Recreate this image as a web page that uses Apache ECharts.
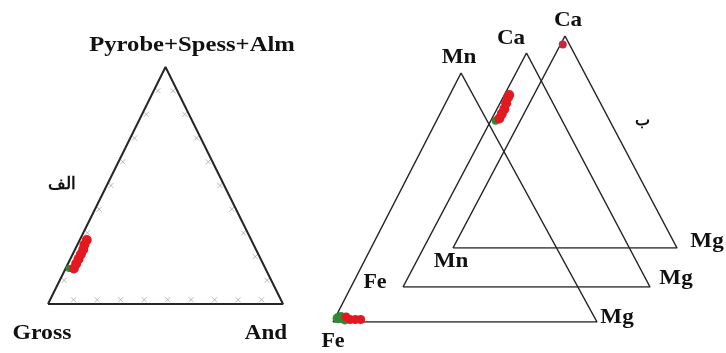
<!DOCTYPE html>
<html><head><meta charset="utf-8">
<script src="https://cdn.jsdelivr.net/npm/echarts@6/dist/echarts.min.js"></script>
<style>html,body{margin:0;padding:0;background:#fff}#c{width:726px;height:353px}</style>
</head><body><div id="c"></div>
<script>
// Vertex labels for each ternary diagram, ordered [left, right, top]
const garnetVertices = ['Gross', 'And', 'Pyrobe+Spess+Alm'];
const mnFeMgVertices = ['Fe', 'Mg', 'Mn'];
const caFeMgVertices = ['Fe', 'Mg', 'Ca'];
const caMnMgVertices = ['Mn', 'Mg', 'Ca'];
const panelLabels = ['الف', 'ب'];
const tickFractions = [0.1, 0.2, 0.3, 0.4, 0.5, 0.6, 0.7, 0.8, 0.9];

// Compositions as fractions [left, right, top]
const garnetRed = [[0.815,0.035,0.15],[0.795,0.035,0.17],[0.775,0.035,0.19],[0.755,0.035,0.21],[0.735,0.035,0.23],[0.72,0.03,0.25],[0.70,0.03,0.27]];
const garnetGreen = [[0.835,0.015,0.15]];
const mnFeMgGreen = [[0.975,0.01,0.015],[0.96,0.02,0.02],[0.95,0.04,0.01]];
const mnFeMgRed = [[0.93,0.06,0.01],[0.91,0.08,0.01],[0.89,0.10,0.01],[0.94,0.04,0.02]];
const caFeMgGreen = [[0.27,0.02,0.71]];
const caFeMgRed = [[0.25,0.03,0.72],[0.23,0.03,0.74],[0.21,0.03,0.76],[0.19,0.025,0.785],[0.17,0.02,0.81],[0.16,0.02,0.82]];
const caMnMgRed = [[0.03,0.01,0.96]];

const chart = echarts.init(document.getElementById('c'));

// Layout of each triangle (pixels) and apex horizontal position
const layouts = [
  {left: 48, top: 67, width: 235, height: 237, apexX: 0.5},
  {left: 333, top: 73, width: 264, height: 249, apexX: 0.485},
  {left: 403, top: 53, width: 247, height: 234, apexX: 0.5},
  {left: 453, top: 36, width: 224, height: 212, apexX: 0.5}
];

function toXY(c, apexX) { return [c[1] + c[2] * apexX, c[2]]; }
const cornerComps = [[1,0,0],[0,1,0],[0,0,1],[1,0,0]];

const grids = [], xAxes = [], yAxes = [], series = [];
const RED = '#e3191f', GREEN = '#2f8a35', LINE = '#262626';

layouts.forEach((L, i) => {
  grids.push({left: L.left, top: L.top, width: L.width, height: L.height, containLabel: false});
  xAxes.push({gridIndex: i, type: 'value', min: 0, max: 1, show: false});
  yAxes.push({gridIndex: i, type: 'value', min: 0, max: 1, show: false});
  series.push({
    type: 'line', xAxisIndex: i, yAxisIndex: i, showSymbol: false, silent: true,
    data: cornerComps.map(c => toXY(c, L.apexX)),
    lineStyle: {color: LINE, width: i === 0 ? 2 : 1.5}, z: 2
  });
});

function scatter(idx, comps, color, size) {
  series.push({
    type: 'scatter', xAxisIndex: idx, yAxisIndex: idx, symbolSize: size,
    data: comps.map(c => toXY(c, layouts[idx].apexX)),
    itemStyle: {color: color, opacity: 1}, z: 3
  });
}

// Tick marks on garnet triangle
const inset = 0.018;
const tickComps = [];
tickFractions.forEach(t => {
  tickComps.push([1 - t - inset, t, inset]);      // bottom edge
  tickComps.push([1 - t - inset, inset, t]);      // left edge
  tickComps.push([inset, 1 - t - inset, t]);      // right edge
});
series.push({
  type: 'scatter', xAxisIndex: 0, yAxisIndex: 0, symbol: 'path://M0,0L10,10M10,0L0,10',
  symbolSize: 5, data: tickComps.map(c => toXY(c, layouts[0].apexX)),
  itemStyle: {color: 'none', borderColor: '#a8a8a8', borderWidth: 1}, z: 1
});

scatter(0, garnetGreen, GREEN, 7);
scatter(0, garnetRed, RED, 10);
scatter(1, mnFeMgGreen, GREEN, 10);
scatter(1, mnFeMgRed, RED, 9);
scatter(2, caFeMgGreen, GREEN, 8);
scatter(2, caFeMgRed, RED, 10);
scatter(3, caMnMgRed, '#c8283f', 8);

const serif = '"Liberation Serif", "DejaVu Serif", serif';
function txt(s, x, y, size, sx) {
  return {type: 'text', x: x, y: y, scaleX: sx || 1, style: {text: s, fill: '#111', font: 'bold ' + size + 'px ' + serif, textAlign: 'center', textVerticalAlign: 'middle'}};
}
const graphics = [
  txt(garnetVertices[2], 192, 45, 22, 1.12),
  txt(garnetVertices[0], 42, 333, 22, 1.08),
  txt(garnetVertices[1], 266, 333, 22, 1.05),
  txt(panelLabels[0], 62, 185, 17),
  txt(mnFeMgVertices[2], 459, 57, 22, 1.05),
  txt(mnFeMgVertices[0], 333, 341, 22),
  txt(mnFeMgVertices[1], 617, 317, 22, 1.05),
  txt(caFeMgVertices[2], 511, 38, 22, 1.05),
  txt(caFeMgVertices[0], 375, 282, 22),
  txt(caFeMgVertices[1], 676, 278, 22, 1.05),
  txt(caMnMgVertices[2], 568, 20, 22, 1.05),
  txt(caMnMgVertices[0], 451, 261, 22, 1.05),
  txt(caMnMgVertices[1], 707, 241, 22, 1.05),
  txt(panelLabels[1], 642, 121, 16)
];

chart.setOption({
  animation: false,
  backgroundColor: '#fff',
  grid: grids, xAxis: xAxes, yAxis: yAxes, series: series,
  graphic: graphics
});
</script></body></html>
